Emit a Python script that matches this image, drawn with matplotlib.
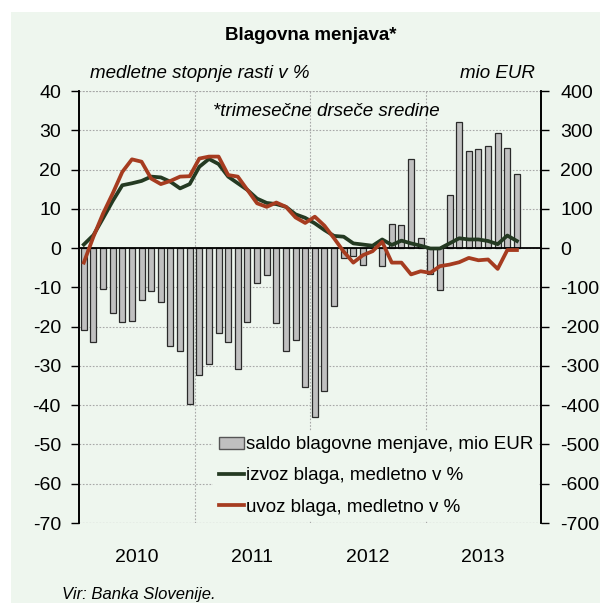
import numpy as np
import matplotlib.pyplot as plt
from matplotlib.patches import Rectangle, Patch
from matplotlib.lines import Line2D

plt.rcParams['font.family'] = ['Liberation Sans Narrow', 'Liberation Sans', 'DejaVu Sans']
plt.rcParams['axes.unicode_minus'] = False

# monthly data, Jan 2010 - Oct 2013
saldo = [-209, -239, -103, -165, -189, -186, -131, -110, -138, -250, -263, -398,
         -323, -295, -217, -239, -309, -188, -90, -69, -192, -261, -234, -354,
         -431, -363, -148, -26, -19, -44, 0, -46, 61, 58, 228, 25,
         -67, -107, 135, 321, 247, 252, 261, 294, 256, 189]
izvoz = [0.9, 3.3, 7.6, 12.0, 16.0, 16.5, 17.1, 18.2, 18.0, 16.9, 15.2, 16.3,
         20.7, 22.7, 21.4, 18.2, 16.5, 14.8, 12.6, 11.5, 11.2, 10.5, 8.6, 7.7,
         6.3, 4.6, 3.1, 2.9, 1.2, 0.9, 0.6, 2.2, 0.8, 1.9, 1.2, 0.6,
         -0.1, -0.1, 1.2, 2.5, 2.2, 2.2, 1.8, 1.0, 3.2, 1.8]
uvoz = [-3.7, 2.9, 8.8, 13.9, 19.4, 22.6, 22.0, 17.7, 16.3, 17.1, 18.2, 18.3,
        22.8, 23.3, 23.3, 18.6, 18.2, 14.8, 11.4, 10.5, 11.6, 10.5, 7.8, 6.4,
        8.0, 5.7, 2.5, -0.9, -3.7, -1.8, -0.8, 1.6, -3.7, -3.7, -6.7, -5.9,
        -6.3, -4.6, -4.2, -3.6, -2.5, -3.1, -2.9, -5.3, -0.5, -0.5]
years = ['2010', '2011', '2012', '2013']

bg = '#eef6ee'
green = '#243a22'
red = '#a63c20'
gridc = '#a8a8a8'
fs = 14

fig = plt.figure(figsize=(6, 6.03), dpi=100)
fig.patch.set_facecolor('white')
fig.patches.append(Rectangle((11 / 600, 0), 1, 1 - 12 / 603, transform=fig.transFigure,
                             facecolor=bg, edgecolor='none', zorder=-5))

# base axes: bars (mio EUR, right side); twin: lines (%, left side)
ax2 = fig.add_axes([79 / 600, 1 - 523 / 603, 462 / 600, 432 / 603])
ax = ax2.twinx()
ax2.set_facecolor(bg)
ax.set_zorder(ax2.get_zorder() + 1)
ax.patch.set_visible(False)

x = np.arange(len(saldo))

ax2.bar(x, saldo, width=0.62, color='#c0c0c0', edgecolor='#2a2a2a', linewidth=0.9, zorder=3)
ax2.axhline(0, color='black', lw=1.3, zorder=4)
ax2.set_ylim(-700, 400)
ax2.set_yticks(np.arange(-700, 401, 100))

ax.plot(x, izvoz, color=green, lw=2.7, zorder=5)
ax.plot(x, uvoz, color=red, lw=2.7, zorder=6)
ax.set_ylim(-70, 40)
ax.set_yticks(np.arange(-70, 41, 10))

ax2.yaxis.tick_right()
ax.yaxis.tick_left()

ax2.set_xlim(-0.5, 47.5)
ax2.set_xticks([11.5, 23.5, 35.5])
ax2.set_xticklabels([])
ax2.set_xticks([5.5, 17.5, 29.5, 41.5], minor=True)
ax2.set_xticklabels(years, minor=True)
ax2.tick_params(axis='x', which='both', length=0, labelsize=fs, pad=19)

ax2.grid(True, axis='both', which='major', color=gridc, linestyle=(0, (1.5, 1.5)), lw=0.8, zorder=0)
for a in (ax, ax2):
    for s in ('top', 'bottom'):
        a.spines[s].set_visible(False)
    a.spines['left'].set_linewidth(1.2)
    a.spines['right'].set_linewidth(1.2)
ax2.axhline(400, color=gridc, linestyle=(0, (1.5, 1.5)), lw=0.8, zorder=0)
ax2.axhline(-700, color=gridc, linestyle=(0, (1.5, 1.5)), lw=0.8, zorder=0)

ax.tick_params(axis='y', direction='out', length=6, width=1, labelsize=fs, pad=7)
ax2.tick_params(axis='y', direction='out', length=6, width=1, labelsize=fs, pad=8)

handles = [Patch(facecolor='#c0c0c0', edgecolor='#555555', lw=1),
           Line2D([], [], color=green, lw=2.7),
           Line2D([], [], color=red, lw=2.7)]
labels = ['saldo blagovne menjave, mio EUR', 'izvoz blaga, medletno v %', 'uvoz blaga, medletno v %']
leg = ax.legend(handles, labels, loc='lower right', bbox_to_anchor=(1.0, 0.0), frameon=True,
                fontsize=13.5, handlelength=1.35, handleheight=0.6, handletextpad=0.1,
                labelspacing=0.75, borderaxespad=0.1, borderpad=0.3)
leg.get_frame().set_facecolor(bg)
leg.get_frame().set_edgecolor('none')
leg.get_frame().set_alpha(1)

fig.text(311 / 600, 1 - 35 / 603, 'Blagovna menjava*', ha='center', va='center',
         fontsize=13.5, fontweight='bold')
fig.text(90 / 600, 1 - 74 / 603, 'medletne stopnje rasti v %', ha='left', va='center',
         fontsize=13.5, style='italic')
fig.text(535 / 600, 1 - 74 / 603, 'mio EUR', ha='right', va='center',
         fontsize=13.5, style='italic')
fig.text(326 / 600, 1 - 112 / 603, '*trimesečne drseče sredine', ha='center', va='center',
         fontsize=13.5, style='italic')
fig.text(62 / 600, 1 - 594 / 603, 'Vir: Banka Slovenije.', ha='left', va='center',
         fontsize=12, style='italic')

fig.savefig('out.png', dpi=100, facecolor=fig.get_facecolor())
